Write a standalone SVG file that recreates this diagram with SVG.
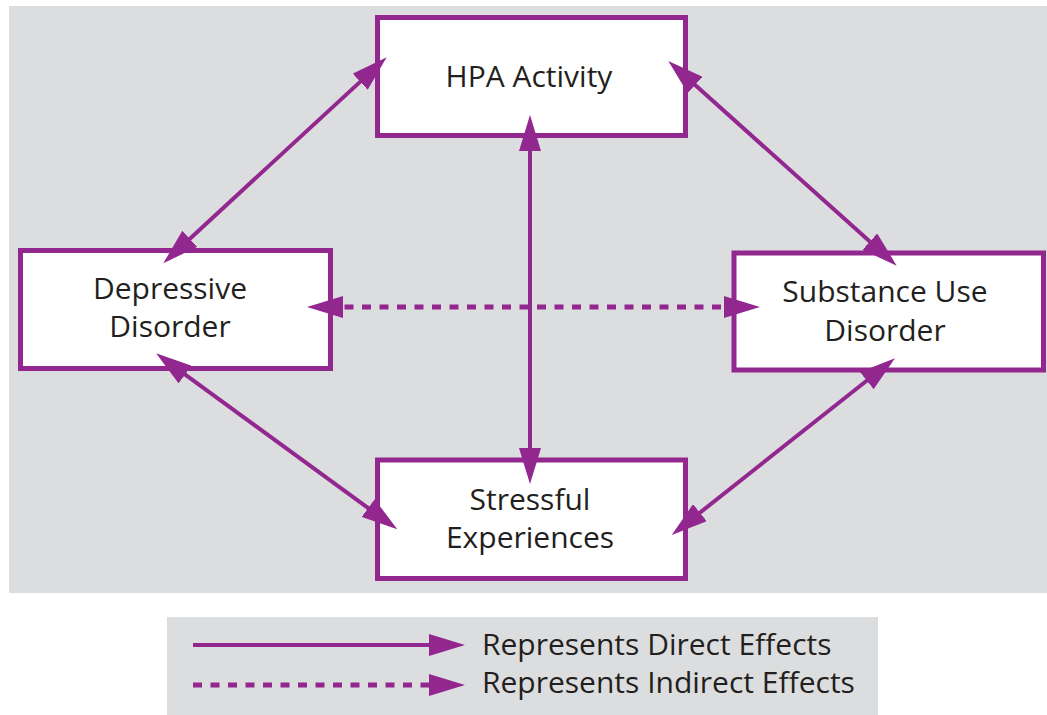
<svg xmlns="http://www.w3.org/2000/svg" width="1047" height="715" viewBox="0 0 1047 715">
  <style>
    .bg { fill: #dcdddf; }
    .box { fill: #ffffff; stroke: #92278f; stroke-width: 5; }
    .lbl { font-family: "Open Sans", "Liberation Sans", sans-serif; font-size: 30px; fill: #231f20; text-anchor: middle; }
    .leg { font-family: "Open Sans", "Liberation Sans", sans-serif; font-size: 30px; fill: #231f20; }
    .conn { fill: none; stroke: #92278f; stroke-width: 4; marker-end: url(#head); }
    .both { marker-start: url(#head); }
    .dash { stroke-width: 5; stroke-dasharray: 9 8.5; }
  </style>
  <defs>
    <marker id="head" viewBox="0 0 36 22" refX="16" refY="11" markerWidth="36" markerHeight="22" markerUnits="userSpaceOnUse" orient="auto-start-reverse">
      <path d="M0,0 L36,11 L0,22 z" fill="#92278f"/>
    </marker>
  </defs>
  <rect width="1047" height="715" fill="#ffffff"/>
  <rect class="bg" x="9" y="6" width="1038" height="587"/>
  <rect class="bg" x="167" y="617" width="711" height="98"/>

  <g id="hpa">
    <rect class="box" x="377.5" y="17.5" width="308" height="118"/>
    <text class="lbl" x="529" y="87">HPA Activity</text>
  </g>
  <g id="depressive">
    <rect class="box" x="20.5" y="250.5" width="310" height="118"/>
    <text class="lbl" x="170" y="299">Depressive</text>
    <text class="lbl" x="170" y="337">Disorder</text>
  </g>
  <g id="substance">
    <rect class="box" x="734" y="253" width="309.5" height="117"/>
    <text class="lbl" x="885" y="302">Substance Use</text>
    <text class="lbl" x="885" y="341">Disorder</text>
  </g>
  <g id="stressful">
    <rect class="box" x="377.5" y="460" width="308" height="118.5"/>
    <text class="lbl" x="530" y="510">Stressful</text>
    <text class="lbl" x="530" y="548">Experiences</text>
  </g>

  <g id="connectors">
    <line class="conn both" x1="178" y1="249.7" x2="372" y2="70.9"/>
    <line class="conn both" x1="683.2" y1="74.3" x2="881.8" y2="252.3"/>
    <line class="conn both" x1="172.2" y1="365.1" x2="381.1" y2="517.5"/>
    <line class="conn both" x1="879.3" y1="370.7" x2="687.4" y2="522.6"/>
    <line class="conn both" x1="530" y1="135" x2="530" y2="464"/>
    <line class="conn both dash" x1="327" y1="307" x2="740" y2="307"/>
  </g>

  <g id="legend">
    <line class="conn" x1="193" y1="645" x2="445" y2="645"/>
    <line class="conn dash" x1="193" y1="685" x2="445" y2="685"/>
    <text class="leg" x="482" y="655">Represents Direct Effects</text>
    <text class="leg" x="482" y="693">Represents Indirect Effects</text>
  </g>
</svg>
